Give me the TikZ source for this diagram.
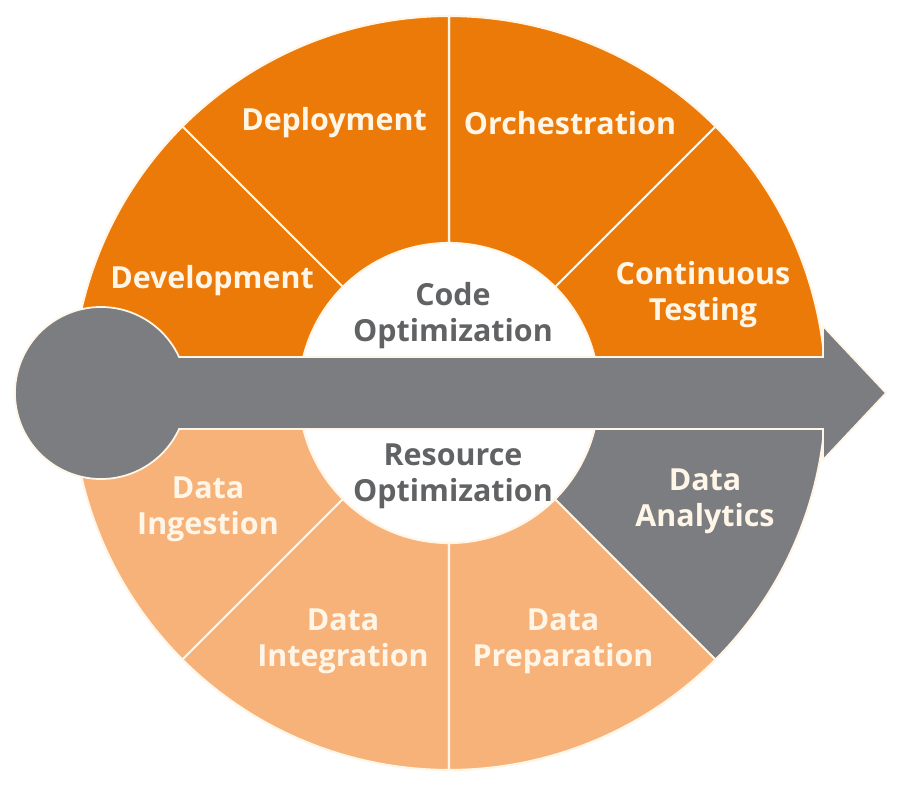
\documentclass[tikz,border=0pt]{standalone}
\usepackage{fontspec}
\setmainfont{Open Sans}
\usetikzlibrary{calc}
\definecolor{deeporange}{HTML}{EC7A08}
\definecolor{paleorange}{HTML}{F7B27A}
\definecolor{steelgray}{HTML}{7B7D80}
\definecolor{labelgray}{HTML}{616264}
\definecolor{cream}{HTML}{FFF6E8}
\def\ringsector[#1](#2:#3){\draw[#1] (#2:3) -- (#2:7.54) arc (#2:#3:7.54) -- (#3:3) arc (#3:#2:3) -- cycle;}
\tikzset{
	seg/.style={draw=cream, line width=1.2pt},
	bar/.style={fill=steelgray, draw=cream, line width=1pt, line join=miter},
	lbl/.style={align=center, text=cream, font=\bfseries\fontsize{17.3}{20.5}\selectfont},
	hub/.style={lbl, text=labelgray}
}

\begin{document}
\begin{tikzpicture}
		%%%%% START %%%%%
		
		\fill[white] (-8.98, -7.86) rectangle (9.02, 7.86);
		\useasboundingbox (-8.98, -7.86) rectangle (9.02, 7.86);
		
		\ringsector[seg, fill=deeporange](0:45);
		\ringsector[seg, fill=deeporange](45:90);
		\ringsector[seg, fill=deeporange](90:135);
		\ringsector[seg, fill=deeporange](135:180);
		
		\ringsector[seg, fill=paleorange](180:225);
		\ringsector[seg, fill=paleorange](225:270);
		\ringsector[seg, fill=paleorange](270:315);
		\ringsector[seg, fill=steelgray](315:360);
		
		\draw[bar] (7.48, 0.72) -- ($(-6.96, 0)+(24.75:1.72)$) arc (24.75:335.25:1.72) -- (7.48, -0.72) -- (7.48, -1.34) -- (8.74, 0) -- (7.48, 1.34) -- cycle;
		
		\node[lbl] (deploy) at (-2.30, 5.40) {Deployment};
		\node[lbl] (orch) at (2.42, 5.40) {Orchestration};
		\node[lbl] (dev) at (-4.74, 2.25) {Development};
		\node[lbl] (ctest) at (5.08, 1.97) {Continuous\\Testing};
		
		\node[hub] (codeopt) at (0.08, 1.54) {Code\\Optimization};
		\node[hub] (resopt) at (0.08, -1.66) {Resource\\Optimization};
		
		\node[lbl] (ingest) at (-4.82, -2.33) {Data\\Ingestion};
		\node[lbl] (integ) at (-2.12, -4.96) {Data\\Integration};
		\node[lbl] (prep) at (2.28, -4.96) {Data\\Preparation};
		\node[lbl] (analytics) at (5.12, -2.16) {Data\\Analytics};
		
		%%%%% END %%%%%
	\end{tikzpicture}
\end{document}
